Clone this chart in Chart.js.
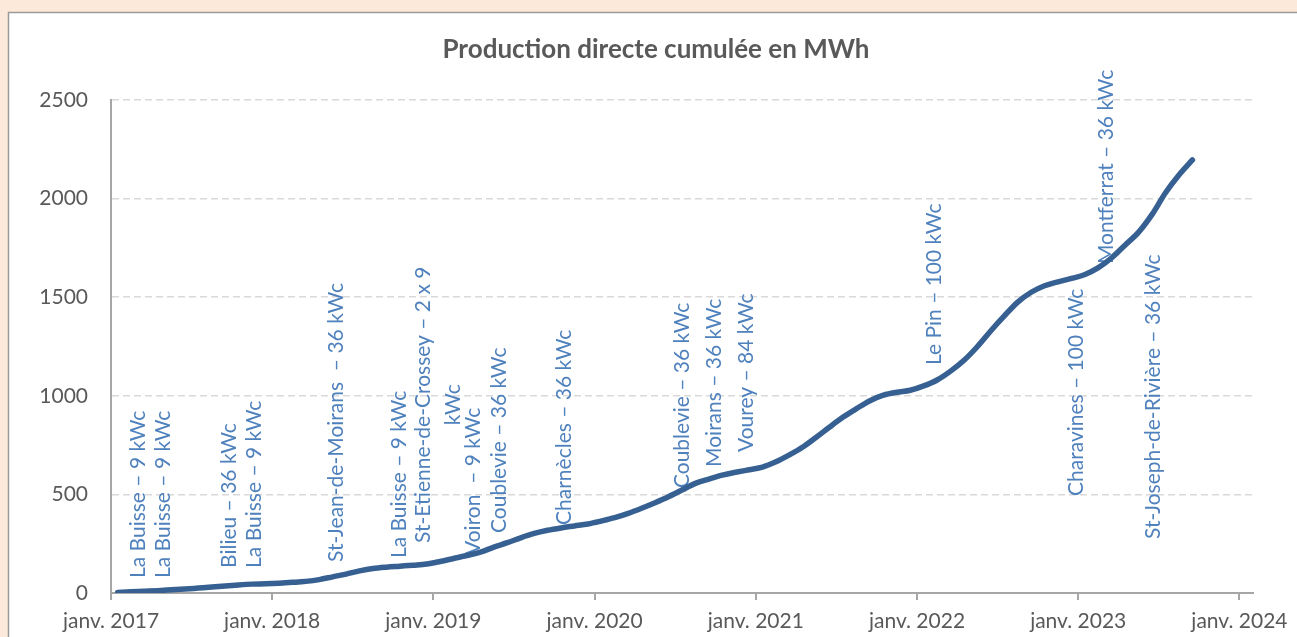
<!DOCTYPE html>
<html>
<head>
<meta charset="utf-8">
<script src="https://cdn.jsdelivr.net/npm/chart.js@4.4.1/dist/chart.umd.min.js"></script>
<style>
  html, body { margin: 0; padding: 0; background: #fde9d9; overflow: hidden; }
  #wrap { position: absolute; left: 0; top: 0; width: 1297px; height: 637px; }
</style>
</head>
<body>
<div id="wrap"><canvas id="c" width="1297" height="637"></canvas></div>
<script>
// ---- data ----
const chartTitle = 'Production directe cumulée en MWh';
const yearTicks = ['janv. 2017', 'janv. 2018', 'janv. 2019', 'janv. 2020', 'janv. 2021', 'janv. 2022', 'janv. 2023', 'janv. 2024'];
const yTicks = ['0', '500', '1000', '1500', '2000', '2500'];
// cumulative direct production (MWh), one value per month from Jan 2017 to Sep 2023
const production = [
  3, 6, 9, 12, 16, 20, 25, 30, 36, 41, 45, 47,
  50, 54, 59, 68, 82, 96, 112, 124, 131, 136, 141, 147,
  160, 175, 190, 207, 233, 255, 280, 302, 318, 330, 340, 350,
  365, 382, 404, 430, 458, 488, 522, 556, 578, 598, 612, 625,
  638, 665, 700, 740, 790, 842, 892, 935, 975, 1003, 1018, 1028,
  1050, 1080, 1125, 1180, 1250, 1330, 1405, 1475, 1525, 1558, 1578, 1595,
  1615, 1650, 1700, 1765, 1830, 1920, 2030, 2120, 2196
];
// installation notes: text, month (since Jan 2017), MWh level where the text starts
const noteTexts = [
  ['La Buisse – 9 kWc'], ['La Buisse – 9 kWc'], ['Bilieu – 36 kWc'], ['La Buisse – 9 kWc'],
  ['St-Jean-de-Moirans  – 36 kWc'], ['La Buisse – 9 kWc'], ['St-Etienne-de-Crossey – 2 x 9', 'kWc'],
  ['Voiron  – 9 kWc'], ['Coublevie – 36 kWc'], ['Charnècles – 36 kWc'], ['Coublevie – 36 kWc'],
  ['Moirans – 36 kWc'], ['Vourey – 84 kWc'], ['Le Pin – 100 kWc'], ['Charavines – 100 kWc'],
  ['Montferrat – 36 kWc'], ['St-Joseph-de-Rivière – 36 kWc']
];
const noteMonths = [2.0, 3.87, 8.77, 10.63, 16.8, 21.49, 23.27, 26.99, 28.92, 33.75, 42.53, 44.91, 47.29, 61.26, 71.82, 74.05, 77.55];
const noteLevels = [76, 76, 127, 127, 157, 177, 254, 193, 304, 345, 532, 639, 715, 1156, 492, 1668, 274];

const points = production.map((v, i) => ({ x: i + 0.5, y: v }));

const FONT = 'Lato, "Open Sans", sans-serif';

const panelPlugin = {
  id: 'panel',
  beforeDraw(chart) {
    const ctx = chart.ctx;
    ctx.save();
    ctx.fillStyle = '#fde9d9';
    ctx.fillRect(0, 0, chart.width, chart.height);
    ctx.fillStyle = '#ffffff';
    ctx.fillRect(8, 12, chart.width, chart.height);
    ctx.strokeStyle = '#9a9a9a';
    ctx.lineWidth = 1.5;
    ctx.beginPath();
    ctx.moveTo(8.5, chart.height + 5);
    ctx.lineTo(8.5, 12.5);
    ctx.lineTo(chart.width + 5, 12.5);
    ctx.stroke();
    // title
    ctx.fillStyle = '#595959';
    ctx.font = 'bold 26px ' + FONT;
    ctx.textAlign = 'center';
    ctx.textBaseline = 'middle';
    ctx.fillText(chartTitle, 656, 50);
    ctx.restore();
  }
};

const notesPlugin = {
  id: 'notes',
  beforeDatasetsDraw(chart) {
    const ctx = chart.ctx;
    const xs = chart.scales.x, ys = chart.scales.y;
    ctx.save();
    ctx.fillStyle = '#4f81bd';
    ctx.font = '21px ' + FONT;
    ctx.textBaseline = 'middle';
    noteTexts.forEach((lines, i) => {
      const px = xs.getPixelForValue(noteMonths[i]);
      const py = ys.getPixelForValue(noteLevels[i]);
      ctx.save();
      ctx.translate(px, py);
      ctx.rotate(-Math.PI / 2);
      const w0 = ctx.measureText(lines[0]).width;
      lines.forEach((t, j) => {
        if (j === 0) {
          ctx.textAlign = 'left';
          ctx.fillText(t, 0, 0);
        } else {
          ctx.textAlign = 'center';
          ctx.fillText(t, w0 / 2, j * 30);
        }
      });
      ctx.restore();
    });
    ctx.restore();
  }
};

new Chart(document.getElementById('c'), {
  type: 'line',
  data: {
    datasets: [{
      data: points,
      borderColor: '#376092',
      borderWidth: 5.5,
      borderCapStyle: 'round',
      borderJoinStyle: 'round',
      pointRadius: 0,
      fill: false,
      cubicInterpolationMode: 'monotone'
    }]
  },
  options: {
    responsive: false,
    animation: false,
    events: [],
    layout: { padding: { left: 0, right: 43, top: 100, bottom: 0 } },
    plugins: {
      legend: { display: false },
      tooltip: { enabled: false },
      title: { display: false }
    },
    scales: {
      x: {
        type: 'linear',
        min: 0,
        max: 85,
        afterFit(s) { s.height = 44; },
        ticks: {
          stepSize: 12,
          includeBounds: false,
          autoSkip: false,
          maxRotation: 0,
          color: '#595959',
          font: { family: FONT, size: 21 },
          padding: 9,
          callback: (v) => (v % 12 === 0 ? yearTicks[v / 12] : '')
        },
        grid: { display: true, drawOnChartArea: false, drawTicks: true, tickLength: 7, color: '#a6a6a6', lineWidth: 2 },
        border: { display: true, color: '#a6a6a6', width: 2 }
      },
      y: {
        min: 0,
        max: 2500,
        afterFit(s) { s.width = 111; },
        ticks: {
          stepSize: 500,
          color: '#595959',
          font: { family: FONT, size: 21 },
          padding: 23,
          callback: (v) => (v % 500 === 0 ? yTicks[v / 500] : '')
        },
        grid: { color: '#d9d9d9', lineWidth: 1.5, drawTicks: false },
        border: { display: true, color: '#a6a6a6', width: 2, dash: [7, 4] }
      }
    }
  },
  plugins: [panelPlugin, notesPlugin]
});
</script>
</body>
</html>
